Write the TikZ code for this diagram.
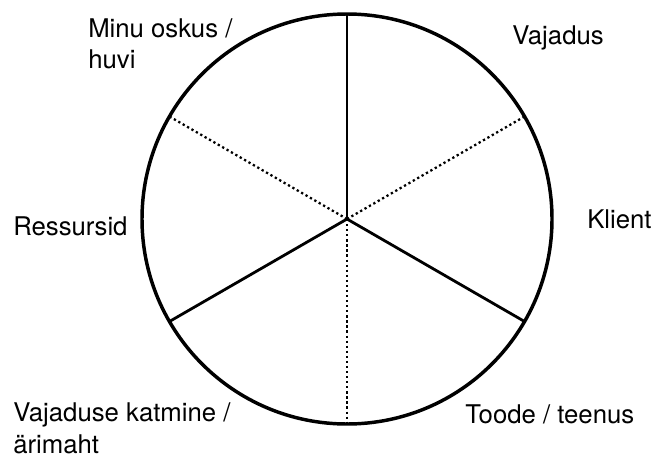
\documentclass[tikz,border=0pt]{standalone}
\usepackage{fontspec}
\setmainfont{TeX Gyre Heros}
\usetikzlibrary{positioning}
\newcommand{\labelfont}{\fontsize{19.3}{23.3}\selectfont}

\begin{document}
\begin{tikzpicture}[x=0.75pt,y=-0.75pt,
    lbl/.style={inner sep=0pt,anchor=base west,align=left,font=\labelfont},
    solidspoke/.style={line width=2.1pt},
    dotspoke/.style={line width=1.7pt,dash pattern=on 1.7pt off 2.1pt}]
  \useasboundingbox (0,0) rectangle (655,460);
  % the wheel
  \node[circle,draw,line width=2.6pt,inner sep=0pt,outer sep=0pt,minimum size=307.5pt] (wheel) at (347,219) {};
  % spokes
  \draw[solidspoke] (wheel.center) -- (wheel.90);
  \draw[solidspoke] (wheel.center) -- (wheel.330);
  \draw[solidspoke] (wheel.center) -- (wheel.210);
  \draw[dotspoke] (wheel.center) -- (wheel.30);
  \draw[dotspoke] (wheel.center) -- (wheel.150);
  \draw[dotspoke] (wheel.center) -- (wheel.270);
  % labels (two-line ones sit on their last baseline)
  \node[lbl] (oskus) at (88,69) {Minu oskus /\\huvi};
  \node[lbl] (vajadus) at (512,45) {Vajadus};
  \node[lbl] (klient) at (587,228) {Klient};
  \node[lbl] (ressursid) at (13,235) {Ressursid};
  \node[lbl] (katmine) at (13,453) {Vajaduse katmine /\\ärimaht};
  \node[lbl] (toode) at (465,423) {Toode / teenus};
\end{tikzpicture}
\end{document}
